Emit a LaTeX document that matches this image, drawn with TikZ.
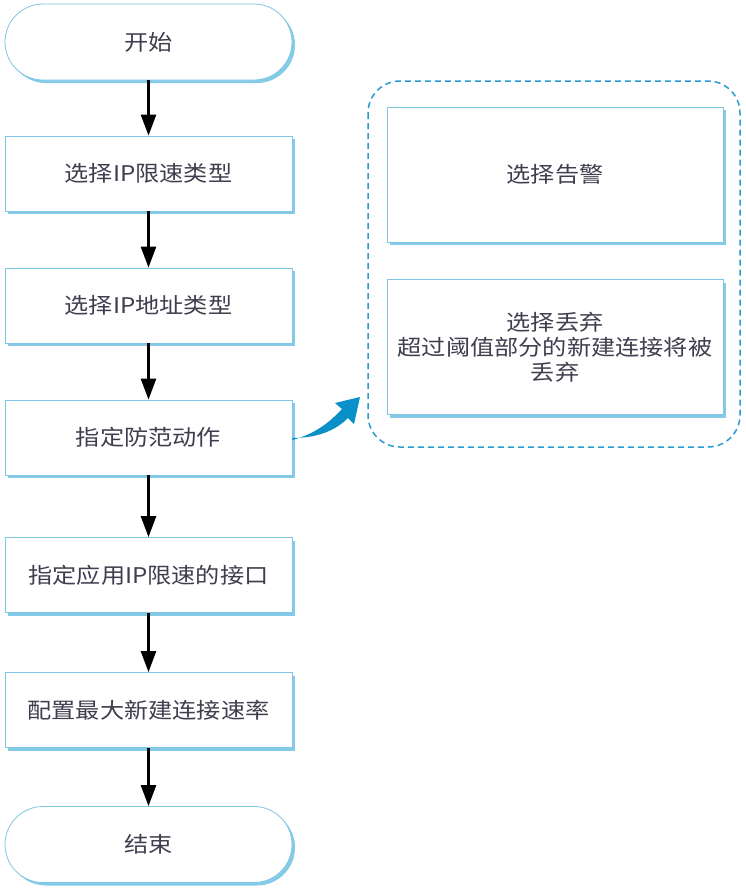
\documentclass[tikz,border=0pt]{standalone}
\usepackage{fontspec}
\newfontfamily\cjk[FakeStretch=1.12]{Noto Sans CJK SC}
\usetikzlibrary{arrows.meta,shadows}
\definecolor{bordc}{HTML}{7FC6E4}
\definecolor{shadc}{HTML}{84CBE8}
\definecolor{txtc}{HTML}{3E3E4E}
\definecolor{dashc}{HTML}{2A9BD0}
\definecolor{bluearr}{HTML}{0A90C8}
\tikzset{
  base/.style={draw=bordc, line width=0.8pt, fill=white, text=txtc,
    font=\cjk\fontsize{21.6}{25}\selectfont, align=center,
    drop shadow={shadow xshift=3pt, shadow yshift=-3pt, fill=shadc, opacity=1}},
  stepbox/.style={base, rectangle, minimum width=287pt, minimum height=75pt, inner sep=0pt},
  optbox/.style={base, rectangle, minimum width=336pt, minimum height=135pt, inner sep=0pt},
  term/.style={base, rectangle, rounded corners=38pt, minimum width=287pt, minimum height=76pt, inner sep=0pt},
  flow/.style={draw=black, line width=2.6pt, -{Triangle[width=15pt,length=21pt]}}
}
\begin{document}
\begin{tikzpicture}[x=1pt,y=-1pt]
\useasboundingbox (0,0) rectangle (745,892);
\node[term] (start) at (148.5,42) {开始};
\node[stepbox] (s1) at (148.5,173.5) {选择IP限速类型};
\node[stepbox] (s2) at (148.5,305.5) {选择IP地址类型};
\node[stepbox] (s3) at (148.5,437.5) {指定防范动作};
\node[stepbox] (s4) at (148.5,575) {指定应用IP限速的接口};
\node[stepbox] (s5) at (148.5,710) {配置最大新建连接速率};
\node[term] (end) at (148.5,844.5) {结束};

\draw[dashc, line width=1.5pt, dash pattern=on 6pt off 4pt, rounded corners=32pt]
  (368,81) rectangle (740,447);
\node[optbox] (o1) at (555,174.5) {选择告警};
\node[optbox] (o2) at (555,347) {选择丢弃\\超过阈值部分的新建连接将被\\丢弃};

\draw[flow] (start) -- (s1);
\draw[flow] (s1) -- (s2);
\draw[flow] (s2) -- (s3);
\draw[flow] (s3) -- (s4);
\draw[flow] (s4) -- (s5);
\draw[flow] (s5) -- (end);

\coordinate (tail) at (s3.east);
\fill[bluearr] ([yshift=-0.5pt]tail) .. controls (320,438) and (337,429) .. (348,418)
  -- (354,424) -- (360,397) -- (335,403) -- (342,409)
  .. controls (330,422) and (315,434) .. ([yshift=-2.5pt]tail) -- cycle;
\end{tikzpicture}
\end{document}
